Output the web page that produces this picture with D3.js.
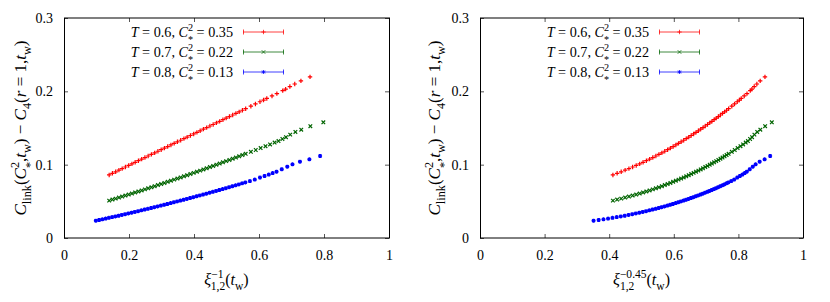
<!DOCTYPE html>
<html>
<head>
<meta charset="utf-8">
<script src="https://cdn.jsdelivr.net/npm/d3@7"></script>
<style>
body { margin: 0; background: #fff; }
</style>
</head>
<body>
<svg id="chart" width="830" height="302" font-family="'Liberation Serif', 'DejaVu Serif', serif"></svg>
<script>
// ---- data ----
// x = xi_{1,2}^{-1}(t_w), y = C_link - C_4
var redX = [0.139,0.149,0.159,0.169,0.179,0.189,0.199,0.209,0.219,0.229,0.239,0.249,0.259,0.269,0.279,0.289,0.299,0.309,0.319,0.329,0.339,0.349,0.359,0.369,0.379,0.389,0.399,0.409,0.419,0.429,0.439,0.449,0.459,0.469,0.479,0.489,0.499,0.509,0.519,0.529,0.539,0.549,0.559,
            0.575,0.589,0.603,0.614,0.624,0.640,0.655,0.673,0.682,0.695,0.710,0.729,0.757];
var redY = [0.0860,0.0882,0.0903,0.0925,0.0946,0.0968,0.0989,0.1011,0.1032,0.1054,0.1075,0.1097,0.1118,0.1140,0.1161,0.1183,0.1204,0.1226,0.1247,0.1269,0.1290,0.1312,0.1333,0.1355,0.1376,0.1398,0.1419,0.1441,0.1462,0.1484,0.1505,0.1527,0.1548,0.1570,0.1591,0.1613,0.1634,0.1656,0.1677,0.1699,0.1720,0.1742,0.1763,
            0.1797,0.1828,0.1858,0.1881,0.1903,0.1937,0.1969,0.2010,0.2030,0.2065,0.2100,0.2142,0.2197];

var greenX = [0.139,0.149,0.159,0.169,0.179,0.189,0.199,0.209,0.219,0.229,0.239,0.249,0.259,0.269,0.279,0.289,0.299,0.309,0.319,0.329,0.339,0.349,0.359,0.369,0.379,0.389,0.399,0.409,0.419,0.429,0.439,0.449,0.459,0.469,0.479,0.489,0.499,0.509,0.519,0.529,0.539,0.549,0.559,
              0.575,0.590,0.605,0.620,0.634,0.648,0.660,0.672,0.683,0.696,0.712,0.730,0.758,0.798];
var greenY = [0.0510,0.0524,0.0537,0.0551,0.0565,0.0579,0.0592,0.0606,0.0621,0.0635,0.0649,0.0663,0.0678,0.0692,0.0707,0.0722,0.0736,0.0751,0.0766,0.0781,0.0796,0.0811,0.0826,0.0842,0.0857,0.0873,0.0888,0.0904,0.0919,0.0935,0.0951,0.0967,0.0983,0.0999,0.1015,0.1032,0.1048,0.1064,0.1081,0.1097,0.1114,0.1131,0.1148,
              0.1175,0.1200,0.1226,0.1252,0.1276,0.1301,0.1322,0.1350,0.1375,0.1410,0.1446,0.1477,0.1524,0.1578];

var blueX = [0.098,0.108,0.118,0.128,0.138,0.148,0.158,0.168,0.178,0.188,0.198,0.208,0.218,0.228,0.238,0.248,0.258,0.268,0.278,0.288,0.298,0.308,0.318,0.328,0.338,0.348,0.358,0.368,0.378,0.388,0.398,0.408,0.418,0.428,0.438,0.448,0.458,0.468,0.478,0.488,0.498,0.508,0.518,0.528,0.538,0.548,0.558,
             0.572,0.587,0.603,0.617,0.630,0.642,0.654,0.670,0.687,0.703,0.726,0.755,0.788];
var blueY = [0.0236,0.0246,0.0255,0.0265,0.0275,0.0285,0.0294,0.0304,0.0315,0.0325,0.0335,0.0345,0.0356,0.0366,0.0377,0.0388,0.0398,0.0409,0.0420,0.0431,0.0442,0.0453,0.0464,0.0476,0.0487,0.0499,0.0510,0.0522,0.0533,0.0545,0.0557,0.0569,0.0581,0.0593,0.0605,0.0618,0.0630,0.0642,0.0655,0.0667,0.0680,0.0693,0.0706,0.0718,0.0731,0.0745,0.0758,
             0.0776,0.0797,0.0825,0.0845,0.0865,0.0885,0.0905,0.0937,0.0973,0.1005,0.1041,0.1073,0.1118];

var temps = ["0.6", "0.7", "0.8"];
var cStar2 = ["0.35", "0.22", "0.13"];
var xTicks = [0, 0.2, 0.4, 0.6, 0.8, 1];
var yTicks = [0, 0.1, 0.2, 0.3];
var exponents = ["1", "0.45"];   // x axis of each panel is xi^(-exponent)

var colors = ["#ff0000", "#006400", "#0000ff"];
var markers = [
    "M-2.2,0H2.2M0,-2.2V2.2",
    "M-1.8,-1.8L1.8,1.8M-1.8,1.8L1.8,-1.8",
    "M-2,0H2M0,-2V2M-1.5,-1.5L1.5,1.5M-1.5,1.5L1.5,-1.5"
];

var series = [
    {x: redX, y: redY},
    {x: greenX, y: greenY},
    {x: blueX, y: blueY}
];

var FONT = "'Liberation Serif', 'DejaVu Serif', serif";
var svg = d3.select("#chart");
var plotTop = 18, plotBottom = 238;
var panels = [{left: 64, right: 389, ylab: 26}, {left: 480, right: 803, ylab: 440}];

// writes a text made of plain / italic / sub pieces; {stack:[sup,sub]} puts both at one spot
function rich(txt, parts, size) {
    var cur = 0, pending = 0;
    function piece(p, shift, small) {
	var ts = txt.append("tspan").text(p.t).attr("dy", shift - cur);
	cur = shift;
	if (small) ts.attr("font-size", size * 0.72);
	if (p.i) ts.attr("font-style", "italic");
	if (pending) { ts.attr("dx", pending); pending = 0; }
	return ts;
    }
    parts.forEach(function(p) {
	if (p.stack) {
	    var a = piece({t: p.stack[0]}, -size * 0.42, true);
	    var w1 = a.node().getComputedTextLength();
	    var b = piece({t: p.stack[1]}, size * (p.low || 0.3), true);
	    b.attr("dx", -w1);
	    var w2 = b.node().getComputedTextLength();
	    if (w1 > w2) pending = w1 - w2;
	} else {
	    piece(p, p.sub ? size * 0.3 : 0, !!p.sub);
	}
    });
}

panels.forEach(function(pn, pi) {
    var ex = +exponents[pi];
    var x = d3.scaleLinear().domain([0, 1]).range([pn.left, pn.right]);
    var y = d3.scaleLinear().domain([0, 0.3]).range([plotBottom, plotTop]);
    var g = svg.append("g");

    // ticks on all four sides, pointing inwards
    var axes = [
	[d3.axisBottom(x).tickValues(xTicks).tickSize(-4).tickPadding(12).tickFormat(function(d) { return String(d); }), "translate(0," + plotBottom + ")"],
	[d3.axisTop(x).tickValues(xTicks).tickSize(-4).tickFormat(""), "translate(0," + plotTop + ")"],
	[d3.axisLeft(y).tickValues(yTicks).tickSize(-4).tickPadding(11).tickFormat(function(d) { return String(d); }), "translate(" + pn.left + ",0)"],
	[d3.axisRight(y).tickValues(yTicks).tickSize(-4).tickFormat(""), "translate(" + pn.right + ",0)"]
    ];
    axes.forEach(function(a) {
	var ag = g.append("g").attr("transform", a[1]).call(a[0])
	    .attr("font-family", FONT).attr("font-size", 14);
	ag.select(".domain").remove();
	ag.selectAll("line").attr("stroke", "#555");
    });

    g.append("rect")
	.attr("x", pn.left + 0.5).attr("y", plotTop)
	.attr("width", pn.right - pn.left).attr("height", plotBottom - plotTop)
	.attr("fill", "none").attr("stroke", "#000").attr("stroke-width", 1);

    // points
    series.forEach(function(s, si) {
	g.append("g").selectAll("path")
	    .data(s.x.map(function(v, k) { return [Math.pow(v, ex), s.y[k]]; }))
	    .enter().append("path")
	    .attr("d", markers[si])
	    .attr("transform", function(d) { return "translate(" + x(d[0]) + "," + y(d[1]) + ")"; })
	    .attr("fill", "none").attr("stroke", colors[si]).attr("stroke-width", 1.2);
    });

    // legend
    var textEnd = pn.left + 169, s0 = pn.left + 179, s1 = pn.left + 220;
    temps.forEach(function(t, i) {
	var ly = 32 + i * 20;
	var tx = g.append("text").attr("x", textEnd).attr("y", ly + 5)
	    .attr("text-anchor", "end").attr("font-size", 14.2);
	rich(tx, [{t: "T", i: 1}, {t: " = " + t + ", "}, {t: "C", i: 1}, {stack: ["2", "*"], low: 0.45}, {t: " = " + cStar2[i]}], 14.2);
	var lg = g.append("g").attr("stroke", colors[i]).attr("stroke-opacity", 0.75).attr("fill", "none");
	lg.append("line").attr("x1", s0).attr("x2", s1).attr("y1", ly).attr("y2", ly);
	lg.append("line").attr("x1", s0 + 0.5).attr("x2", s0 + 0.5).attr("y1", ly - 2.5).attr("y2", ly + 2.5);
	lg.append("line").attr("x1", s1 - 0.5).attr("x2", s1 - 0.5).attr("y1", ly - 2.5).attr("y2", ly + 2.5);
	lg.append("path").attr("d", markers[i])
	    .attr("transform", "translate(" + ((s0 + s1) / 2) + "," + ly + ")");
    });

    // axis titles
    var xt = g.append("text").attr("x", (pn.left + pn.right) / 2).attr("y", 285)
	.attr("text-anchor", "middle").attr("font-size", 16);
    rich(xt, [{t: "ξ", i: 1}, {stack: ["−" + exponents[pi], "1,2"]}, {t: "("}, {t: "t", i: 1}, {t: "w", sub: 1}, {t: ")"}], 16);

    var yt = g.append("text")
	.attr("transform", "translate(" + pn.ylab + "," + ((plotTop + plotBottom) / 2) + ") rotate(-90)")
	.attr("text-anchor", "middle").attr("font-size", 17);
    rich(yt, [{t: "C", i: 1}, {t: "link", sub: 1}, {t: "("}, {t: "C", i: 1}, {stack: ["2", "*"], low: 0.45},
	      {t: ","}, {t: "t", i: 1}, {t: "w", sub: 1}, {t: ") − "}, {t: "C", i: 1}, {t: "4", sub: 1},
	      {t: "("}, {t: "r", i: 1}, {t: " = 1,"}, {t: "t", i: 1}, {t: "w", sub: 1}, {t: ")"}], 17);
});
</script>
</body>
</html>
